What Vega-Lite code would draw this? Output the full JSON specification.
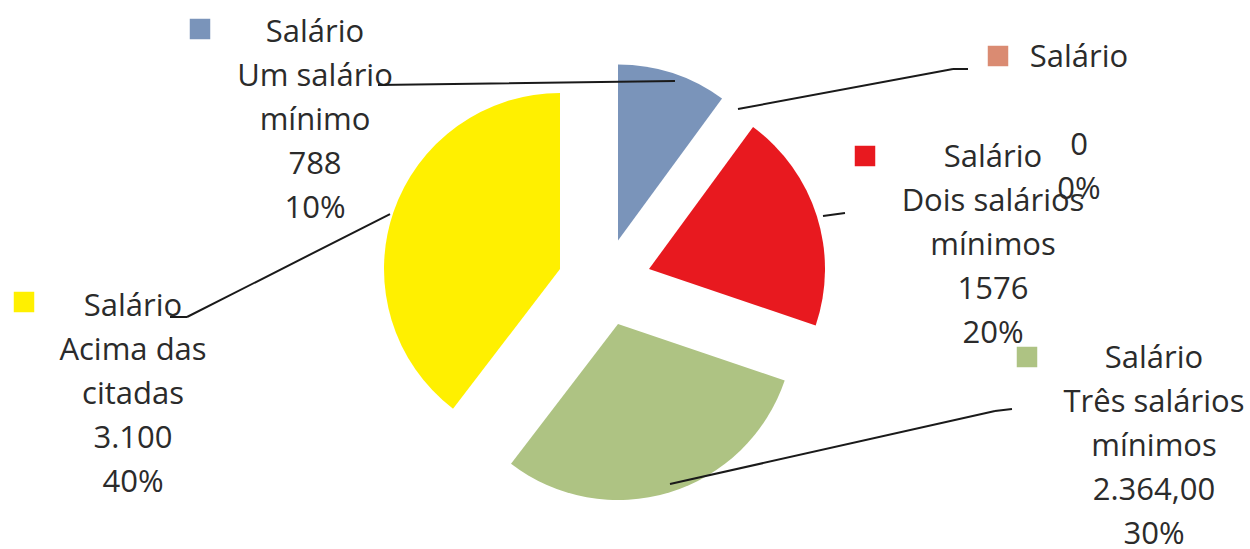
{
  "$schema": "https://vega.github.io/schema/vega-lite/v6.json",
  "width": 1250,
  "height": 549,
  "padding": 0,
  "autosize": {"type": "fit", "contains": "padding"},
  "background": "white",
  "config": {"view": {"stroke": null}},
  "data": {
    "values": [
      {"categoria": "Um salário mínimo", "valor": 788, "rotulo": ["Salário", "Um salário", "mínimo", "788", "10%"]},
      {"categoria": "(vazio)", "valor": 0, "rotulo": ["Salário", "\u2800", "0", "0%"]},
      {"categoria": "Dois salários mínimos", "valor": 1576, "rotulo": ["Salário", "Dois salários", "mínimos", "1576", "20%"]},
      {"categoria": "Três salários mínimos", "valor": 2364, "rotulo": ["Salário", "Três salários", "mínimos", "2.364,00", "30%"]},
      {"categoria": "Acima das citadas", "valor": 3100, "rotulo": ["Salário", "Acima das", "citadas", "3.100", "40%"]}
    ]
  },
  "transform": [{"stack": "valor", "groupby": [], "as": ["v0", "v1"]}],
  "layer": [
    {
      "transform": [{"filter": {"field": "categoria", "equal": "Um salário mínimo"}}],
      "layer": [
        {"mark": {"type": "arc", "outerRadius": 176, "xOffset": -7, "yOffset": -33},
         "encoding": {"theta": {"field": "v1", "type": "quantitative", "stack": null, "scale": {"zero": true}}, "theta2": {"field": "v0"},
           "color": {"field": "categoria", "type": "nominal", "legend": null, "scale": {"domain": ["Um salário mínimo", "(vazio)", "Dois salários mínimos", "Três salários mínimos", "Acima das citadas"], "range": ["#7A94BA", "#DA8B72", "#E8191F", "#AEC383", "#FFF000"]}}}},
        {"mark": {"type": "square", "size": 420, "filled": true, "opacity": 1, "xOffset": -425, "yOffset": -244.5},
         "encoding": {"color": {"field": "categoria", "type": "nominal", "legend": null, "scale": {"domain": ["Um salário mínimo", "(vazio)", "Dois salários mínimos", "Três salários mínimos", "Acima das citadas"], "range": ["#7A94BA", "#DA8B72", "#E8191F", "#AEC383", "#FFF000"]}}}},
        {"mark": {"type": "text", "font": "Open Sans", "fontSize": 31, "lineHeight": 44, "align": "center", "baseline": "alphabetic", "color": "#2b2b2b", "xOffset": -310, "yOffset": -231.5},
         "encoding": {"text": {"field": "rotulo", "type": "nominal"}}},
        {"mark": {"type": "arc", "theta": 1.5573, "theta2": 1.5573, "innerRadius": 0, "outerRadius": 297, "stroke": "#1a1a1a", "strokeWidth": 2, "fillOpacity": 0, "xOffset": -247, "yOffset": -188.5},
         "encoding": {}}
      ]
    },
    {
      "transform": [{"filter": {"field": "categoria", "equal": "(vazio)"}}],
      "layer": [
        {"mark": {"type": "square", "size": 420, "filled": true, "opacity": 1, "xOffset": 373, "yOffset": -217.5},
         "encoding": {"color": {"field": "categoria", "type": "nominal", "legend": null, "scale": {"domain": ["Um salário mínimo", "(vazio)", "Dois salários mínimos", "Três salários mínimos", "Acima das citadas"], "range": ["#7A94BA", "#DA8B72", "#E8191F", "#AEC383", "#FFF000"]}}}},
        {"mark": {"type": "text", "font": "Open Sans", "fontSize": 31, "lineHeight": 44, "align": "center", "baseline": "alphabetic", "color": "#2b2b2b", "xOffset": 454, "yOffset": -206.5},
         "encoding": {"text": {"field": "rotulo", "type": "nominal"}}},
        {"mark": {"type": "arc", "theta": 1.387, "theta2": 1.387, "innerRadius": 0, "outerRadius": 218.7, "stroke": "#1a1a1a", "strokeWidth": 2, "fillOpacity": 0, "xOffset": 113, "yOffset": -164.5},
         "encoding": {}},
        {"mark": {"type": "arc", "theta": 1.5708, "theta2": 1.5708, "innerRadius": 0, "outerRadius": 15, "stroke": "#1a1a1a", "strokeWidth": 2, "fillOpacity": 0, "xOffset": 328, "yOffset": -204.5},
         "encoding": {}}
      ]
    },
    {
      "transform": [{"filter": {"field": "categoria", "equal": "Dois salários mínimos"}}],
      "layer": [
        {"mark": {"type": "arc", "outerRadius": 176, "xOffset": 24, "yOffset": -4.5},
         "encoding": {"theta": {"field": "v1", "type": "quantitative", "stack": null, "scale": {"zero": true}}, "theta2": {"field": "v0"},
           "color": {"field": "categoria", "type": "nominal", "legend": null, "scale": {"domain": ["Um salário mínimo", "(vazio)", "Dois salários mínimos", "Três salários mínimos", "Acima das citadas"], "range": ["#7A94BA", "#DA8B72", "#E8191F", "#AEC383", "#FFF000"]}}}},
        {"mark": {"type": "square", "size": 420, "filled": true, "opacity": 1, "xOffset": 240, "yOffset": -117.5},
         "encoding": {"color": {"field": "categoria", "type": "nominal", "legend": null, "scale": {"domain": ["Um salário mínimo", "(vazio)", "Dois salários mínimos", "Três salários mínimos", "Acima das citadas"], "range": ["#7A94BA", "#DA8B72", "#E8191F", "#AEC383", "#FFF000"]}}}},
        {"mark": {"type": "text", "font": "Open Sans", "fontSize": 31, "lineHeight": 44, "align": "center", "baseline": "alphabetic", "color": "#2b2b2b", "xOffset": 368, "yOffset": -106.5},
         "encoding": {"text": {"field": "rotulo", "type": "nominal"}}},
        {"mark": {"type": "arc", "theta": 1.4353, "theta2": 1.4353, "innerRadius": 0, "outerRadius": 22.2, "stroke": "#1a1a1a", "strokeWidth": 2, "fillOpacity": 0, "xOffset": 198, "yOffset": -57.5},
         "encoding": {}}
      ]
    },
    {
      "transform": [{"filter": {"field": "categoria", "equal": "Três salários mínimos"}}],
      "layer": [
        {"mark": {"type": "arc", "outerRadius": 176, "xOffset": -7, "yOffset": 50.5},
         "encoding": {"theta": {"field": "v1", "type": "quantitative", "stack": null, "scale": {"zero": true}}, "theta2": {"field": "v0"},
           "color": {"field": "categoria", "type": "nominal", "legend": null, "scale": {"domain": ["Um salário mínimo", "(vazio)", "Dois salários mínimos", "Três salários mínimos", "Acima das citadas"], "range": ["#7A94BA", "#DA8B72", "#E8191F", "#AEC383", "#FFF000"]}}}},
        {"mark": {"type": "square", "size": 420, "filled": true, "opacity": 1, "xOffset": 402, "yOffset": 83.5},
         "encoding": {"color": {"field": "categoria", "type": "nominal", "legend": null, "scale": {"domain": ["Um salário mínimo", "(vazio)", "Dois salários mínimos", "Três salários mínimos", "Acima das citadas"], "range": ["#7A94BA", "#DA8B72", "#E8191F", "#AEC383", "#FFF000"]}}}},
        {"mark": {"type": "text", "font": "Open Sans", "fontSize": 31, "lineHeight": 44, "align": "center", "baseline": "alphabetic", "color": "#2b2b2b", "xOffset": 529, "yOffset": 94.5},
         "encoding": {"text": {"field": "rotulo", "type": "nominal"}}},
        {"mark": {"type": "arc", "theta": 1.3498, "theta2": 1.3498, "innerRadius": 0, "outerRadius": 333.1, "stroke": "#1a1a1a", "strokeWidth": 2, "fillOpacity": 0, "xOffset": 45, "yOffset": 210.5},
         "encoding": {}},
        {"mark": {"type": "arc", "theta": 1.4537, "theta2": 1.4537, "innerRadius": 0, "outerRadius": 17.1, "stroke": "#1a1a1a", "strokeWidth": 2, "fillOpacity": 0, "xOffset": 370, "yOffset": 137.5},
         "encoding": {}}
      ]
    },
    {
      "transform": [{"filter": {"field": "categoria", "equal": "Acima das citadas"}}],
      "layer": [
        {"mark": {"type": "arc", "outerRadius": 176, "xOffset": -65, "yOffset": -4.5},
         "encoding": {"theta": {"field": "v1", "type": "quantitative", "stack": null, "scale": {"zero": true}}, "theta2": {"field": "v0"},
           "color": {"field": "categoria", "type": "nominal", "legend": null, "scale": {"domain": ["Um salário mínimo", "(vazio)", "Dois salários mínimos", "Três salários mínimos", "Acima das citadas"], "range": ["#7A94BA", "#DA8B72", "#E8191F", "#AEC383", "#FFF000"]}}}},
        {"mark": {"type": "square", "size": 420, "filled": true, "opacity": 1, "xOffset": -601, "yOffset": 28.5},
         "encoding": {"color": {"field": "categoria", "type": "nominal", "legend": null, "scale": {"domain": ["Um salário mínimo", "(vazio)", "Dois salários mínimos", "Três salários mínimos", "Acima das citadas"], "range": ["#7A94BA", "#DA8B72", "#E8191F", "#AEC383", "#FFF000"]}}}},
        {"mark": {"type": "text", "font": "Open Sans", "fontSize": 31, "lineHeight": 44, "align": "center", "baseline": "alphabetic", "color": "#2b2b2b", "xOffset": -492, "yOffset": 42.5},
         "encoding": {"text": {"field": "rotulo", "type": "nominal"}}},
        {"mark": {"type": "arc", "theta": 1.1014, "theta2": 1.1014, "innerRadius": 0, "outerRadius": 227.6, "stroke": "#1a1a1a", "strokeWidth": 2, "fillOpacity": 0, "xOffset": -438, "yOffset": 43.5},
         "encoding": {}},
        {"mark": {"type": "arc", "theta": 1.5708, "theta2": 1.5708, "innerRadius": 0, "outerRadius": 17, "stroke": "#1a1a1a", "strokeWidth": 2, "fillOpacity": 0, "xOffset": -455, "yOffset": 43.5},
         "encoding": {}}
      ]
    }
  ]
}
